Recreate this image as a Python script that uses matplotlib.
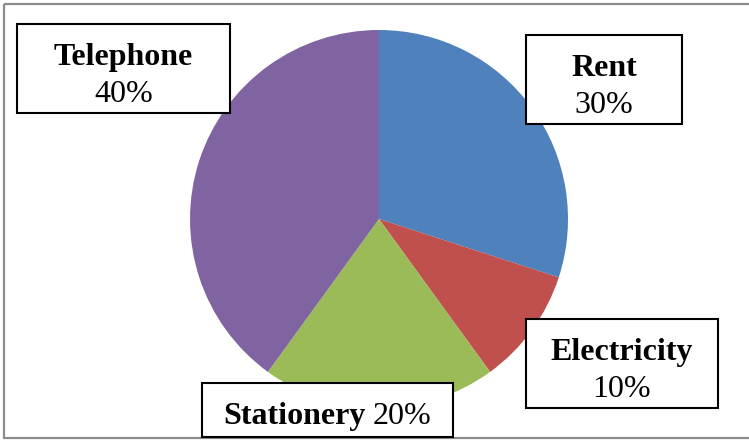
import matplotlib
matplotlib.use("Agg")
import matplotlib.pyplot as plt
from matplotlib.patches import Rectangle

categories = ["Rent", "Electricity", "Stationery", "Telephone"]
values = [30, 10, 20, 40]
colors = ["#4F81BD", "#C0504D", "#9BBB59", "#8064A2"]

W, H = 749, 440
fig = plt.figure(figsize=(W / 100, H / 100), dpi=100)
ax = fig.add_axes([0, 0, 1, 1])

# y axis is inverted below, so -90 is screen top and counterclock is screen clockwise
ax.pie(values, colors=colors, startangle=-90, counterclock=True,
       center=(379, 219), radius=189, frame=True,
       wedgeprops=dict(linewidth=0))
ax.set_xlim(0, W)
ax.set_ylim(H, 0)
ax.set_aspect("equal")
ax.axis("off")

# outer border
ax.add_patch(Rectangle((4, 4), W + 10, 434, fill=False, edgecolor="#8c8c8c", lw=1.6, zorder=5))

font = ["Liberation Serif", "DejaVu Serif"]
fs = 23
pct = {c: v for c, v in zip(categories, values)}

boxes = {
    "Telephone": (17, 24, 230, 113),
    "Rent": (526, 35, 682, 124),
    "Electricity": (526, 319, 718, 408),
}
for name, (x0, y0, x1, y1) in boxes.items():
    ax.add_patch(Rectangle((x0, y0), x1 - x0, y1 - y0, facecolor="white",
                           edgecolor="black", lw=1.5, zorder=6))
    cx = (x0 + x1) / 2
    ax.text(cx, y0 + 41, name, ha="center", va="baseline", fontsize=fs,
            fontweight="bold", family=font, zorder=7)
    ax.text(cx, y0 + 78, f"{pct[name]}%", ha="center", va="baseline",
            fontsize=fs, family=font, zorder=7)

x0, y0, x1, y1 = 202, 383, 453, 437
ax.add_patch(Rectangle((x0, y0), x1 - x0, y1 - y0, facecolor="white",
                       edgecolor="black", lw=1.5, zorder=6))
ax.text(223, 424, "Stationery", ha="left", va="baseline", fontsize=fs,
        fontweight="bold", family=font, zorder=7)
ax.text(431, 424, f"{pct['Stationery']}%", ha="right", va="baseline",
        fontsize=fs, family=font, zorder=7)

fig.savefig("out.png", dpi=100)
